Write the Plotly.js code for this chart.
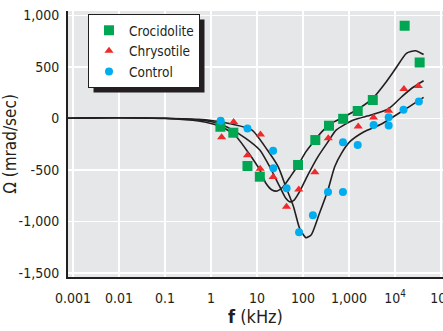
<!DOCTYPE html>
<html>
<head>
<meta charset="utf-8">
<script src="https://cdn.plot.ly/plotly-3.0.1.min.js"></script>
<style>
html,body{margin:0;padding:0;background:#fff;}
#chart{width:443px;height:331px;}
</style>
</head>
<body>
<div id="chart"></div>
<script>
// Measured points (f in kHz, Omega in mrad/sec)
const freqCroc  = [1.6, 3.05, 6.2, 11.5, 78, 185, 367, 746, 1545, 3290, 16200, 34300];
const omegaCroc = [-80, -138, -461, -565, -451, -209, -70, -3, 73, 180, 901, 544];

const freqChry  = [1.7, 3.1, 6.2, 11.9, 11.7, 22.4, 43.7, 81, 181, 354, 1585, 3410, 7280, 15600, 32100];
const omegaChry = [-183, -34, -356, -155, -488, -568, -856, -689, -522, -192, -78, 10, 76, 286, 316];

const freqCtrl  = [1.62, 6.2, 22.4, 22.6, 44, 82, 164, 349, 738, 738, 1545, 3430, 7280, 7280, 15300, 33000];
const omegaCtrl = [-22, -97, -314, -483, -677, -1105, -939, -714, -714, -231, -257, -64, -68, 13, 85, 165];

// Fitted curves
const fitFreqCroc  = [0.0003, 0.003, 0.01, 0.1, 0.536, 1.1, 1.93, 3.56, 6.64, 11.5, 15.6, 21.2, 27.5, 36.3, 53.2, 78.3, 116, 177, 271, 412, 746, 1545, 3290, 6110, 10400, 17700, 27700, 41800];
const fitOmegaCroc = [0, 6, 8, 0, -24, -53, -92, -177, -338, -500, -629, -694, -704, -668, -564, -451, -322, -215, -118, -47, 12, 90, 196, 342, 488, 633, 658, 621];

const fitFreqChry  = [0.0003, 0.003, 0.01, 0.1, 0.536, 1.1, 2.22, 5.69, 11.5, 19.7, 31.2, 42.3, 50.8, 62.2, 84.3, 127, 210, 349, 531, 1250, 3010, 7280, 14500, 25300, 41800];
const fitOmegaChry = [0, 6, 8, 2, -15, -34, -83, -192, -306, -484, -662, -775, -808, -798, -709, -550, -372, -226, -111, -15, 34, 95, 218, 306, 367];

const fitFreqCtrl  = [0.0003, 0.003, 0.01, 0.1, 0.536, 1.1, 2.81, 7.79, 16.8, 28.8, 42.3, 62.2, 84.3, 116, 150, 228, 349, 488, 684, 1043, 2120, 5100, 14500, 41800];
const fitOmegaCtrl = [0, 6, 8, 2, -8, -22, -54, -112, -306, -468, -662, -856, -1066, -1157, -1131, -920, -694, -468, -338, -225, -128, -53, 73, 206];

const xTickVals = [0.001, 0.01, 0.1, 1, 10, 100, 1000, 10000, 100000];
const xTickText = ['0.001', '0.01', '0.1', '1', '10', '100', '1,000', '10<sup>4</sup>', '10<sup>5</sup>'];
const yTickVals = [1000, 500, 0, -500, -1000, -1500];
const yTickText = ['1,000', '500', '0', '-500', '-1,000', '-1,500'];

const FONT = 'Liberation Sans Narrow, Arial Narrow, DejaVu Sans Condensed, sans-serif';
const INK = '#231f20';

function fitTrace(x, y) {
  return {x: x, y: y, type: 'scatter', mode: 'lines', showlegend: false, hoverinfo: 'skip',
          line: {color: INK, width: 1.6, shape: 'spline', smoothing: 0.6}};
}

const data = [
  fitTrace(fitFreqCroc, fitOmegaCroc),
  fitTrace(fitFreqChry, fitOmegaChry),
  fitTrace(fitFreqCtrl, fitOmegaCtrl),
  {x: freqCroc, y: omegaCroc, name: 'Crocidolite', type: 'scatter', mode: 'markers',
   marker: {symbol: 'square', size: 10, color: '#00a651'}},
  {x: freqChry, y: omegaChry, name: 'Chrysotile', type: 'scatter', mode: 'markers',
   marker: {symbol: 'triangle-up', size: 8, color: '#ee2a2a'}},
  {x: freqCtrl, y: omegaCtrl, name: 'Control', type: 'scatter', mode: 'markers',
   marker: {symbol: 'circle', size: 8, color: '#00aeef'}}
];

const L = 68, T = 11, B = 54, R = 0, W = 443, H = 331;
const layout = {
  width: W, height: H,
  margin: {l: L, r: R, t: T, b: B, pad: 0},
  paper_bgcolor: '#ffffff',
  plot_bgcolor: '#e6e7e8',
  font: {family: FONT, size: 14, color: INK},
  showlegend: true,
  legend: {x: (88 - L) / (W - L - R), y: (277 - 14) / (H - T - B), xanchor: 'left', yanchor: 'top',
           bgcolor: '#ffffff', bordercolor: INK, borderwidth: 1,
           font: {family: FONT, size: 13.5, color: INK}, tracegroupgap: 0, itemwidth: 30},
  xaxis: {
    type: 'log', range: [-3.109, 5.043], autorange: false,
    tickmode: 'array', tickvals: xTickVals, ticktext: xTickText,
    showgrid: true, gridcolor: '#ffffff', gridwidth: 1.5,
    showline: true, linecolor: INK, linewidth: 2, ticks: '', zeroline: false,
    ticklabelstandoff: 7, ticklabeloverflow: 'allow',
    tickfont: {family: FONT, size: 14, color: INK},
    title: {text: '<b>f</b> (kHz)', font: {family: FONT, size: 18, color: INK}, standoff: 6}
  },
  yaxis: {
    range: [-1539, 1044], autorange: false,
    tickmode: 'array', tickvals: yTickVals, ticktext: yTickText,
    showgrid: true, gridcolor: '#ffffff', gridwidth: 1.5,
    showline: true, linecolor: INK, linewidth: 2, ticks: '', zeroline: false,
    ticklabelstandoff: 4,
    tickfont: {family: FONT, size: 14, color: INK},
    title: {text: 'Ω (mrad/sec)', font: {family: FONT, size: 17, color: INK}, standoff: 3}
  },
  shapes: []
};

Plotly.newPlot('chart', data, layout, {displayModeBar: false, staticPlot: true}).then(function (gd) {
  const bg = gd.querySelector('.legend .bg');
  if (!bg) return;
  const r = bg.getBoundingClientRect();
  const host = gd.getBoundingClientRect();
  const s = gd._fullLayout._size;
  const px2x = function (px) { return (px - host.left - s.l) / s.w; };
  const py2y = function (py) { return (s.t + s.h - (py - host.top)) / s.h; };
  const off = 5;
  return Plotly.relayout(gd, {shapes: [{
    type: 'rect', xref: 'paper', yref: 'paper', layer: 'above',
    x0: px2x(r.left + off), x1: px2x(r.right + off),
    y0: py2y(r.bottom + off), y1: py2y(r.top + off),
    fillcolor: INK, line: {width: 0}
  }]});
});
</script>
</body>
</html>
